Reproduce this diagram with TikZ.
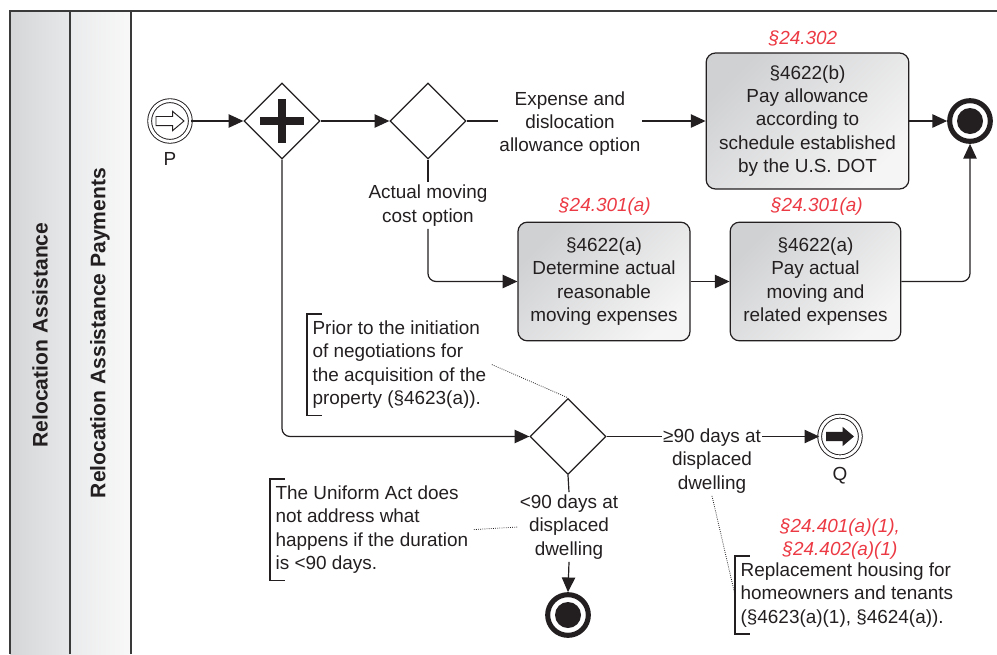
\documentclass[tikz,border=0pt]{standalone}
\usepackage{fontspec}
\setmainfont{Liberation Sans}
\usepackage{xcolor}
\usepackage{tikz}
\usetikzlibrary{shapes.geometric,arrows.meta}

\definecolor{ink}{HTML}{231F20}
\definecolor{laneline}{HTML}{3A3A3A}
\definecolor{refred}{HTML}{EC3A44}
\definecolor{taskdark}{HTML}{D0D1D3}
\definecolor{tasklight}{HTML}{F5F5F5}
\definecolor{poolleft}{HTML}{D5D6D8}
\definecolor{poolright}{HTML}{E7E8E9}
\definecolor{laneleft}{HTML}{EAEBEC}
\definecolor{laneright}{HTML}{F8F8F8}

\newcommand{\txt}{\fontsize{14.2}{17.4}\selectfont}
\newcommand{\linkarrow}{(-10.5pt,-3.4pt) -- (2pt,-3.4pt) -- (2pt,-7.2pt) -- (10.5pt,0pt) -- (2pt,7.2pt) -- (2pt,3.4pt) -- (-10.5pt,3.4pt) -- cycle}

\tikzset{
  seqflow/.style={draw=ink, line width=0.9pt, -{Triangle[length=11pt,width=10pt]}},
  plainflow/.style={draw=ink, line width=0.9pt},
  assoc/.style={draw=ink, line width=0.6pt, densely dotted},
  bracket/.style={draw=ink, line width=0.9pt},
  task/.style={draw=ink, line width=0.9pt, rounded corners=7pt, top color=taskdark, bottom color=tasklight, shading angle=45, align=center, text=ink, font=\txt, inner sep=2pt},
  gateway/.style={diamond, draw=ink, line width=1pt, fill=white, minimum width=57pt, minimum height=57pt, inner sep=0pt},
  linkevent/.style={circle, draw=ink, line width=0.7pt, double=white, double distance=2.2pt, minimum size=30.5pt, inner sep=0pt},
  endevent/.style={circle, draw=ink, line width=3.8pt, fill=white, minimum size=30.5pt, inner sep=0pt, path picture={\fill[ink] (path picture bounding box.center) circle (9.75pt);}},
  flowlabel/.style={align=center, text=ink, font=\txt, inner xsep=1pt, inner ysep=2pt},
  reflabel/.style={align=center, text=refred, font=\txt\itshape, inner sep=0pt},
  annot/.style={anchor=north west, align=left, text=ink, font=\txt, inner xsep=4pt, inner ysep=5pt},
  lanelabel/.style={rotate=90, text=ink, font=\fontsize{15.8}{19}\selectfont\bfseries}
}

\begin{document}
\begin{tikzpicture}[x=0.75pt,y=0.75pt,yscale=-1,xscale=1]
\useasboundingbox (0,0) rectangle (997,654);

\shade[left color=poolleft, right color=poolright] (10,11) rectangle (70,654);
\shade[left color=laneleft, right color=laneright] (70,11) rectangle (131,654);
\draw[laneline, line width=1.5pt] (997,11) -- (10,11) -- (10,654);
\draw[laneline, line width=1.5pt] (70,11) -- (70,654);
\draw[laneline, line width=1.2pt] (131,11) -- (131,654);

\node[lanelabel] (pool) at (40,335) {Relocation Assistance};
\node[lanelabel] (lane) at (100,333) {Relocation Assistance Payments};

\node[linkevent] (p) at (170,121) {};
\draw[ink, line width=0.7pt, fill=white, shift={(p.center)}] \linkarrow;
\node[flowlabel] (plbl) at (170,159) {P};

\node[gateway] (par) at (282,121) {};
\draw[ink, line width=6pt] ([xshift=-16.5pt]par.center) -- ([xshift=16.5pt]par.center);
\draw[ink, line width=6pt] ([yshift=-16.5pt]par.center) -- ([yshift=16.5pt]par.center);

\node[gateway] (gw1) at (428,121) {};
\node[flowlabel] (expense) at (570,123.5) {Expense and\\dislocation\\allowance option};
\node[task, minimum width=152pt, minimum height=102pt] (task1) at (807.5,121) {§4622(b)\\Pay allowance\\according to\\schedule established\\by the U.S. DOT};
\node[reflabel] (ref1) at (803,38) {§24.302};
\node[endevent] (endA) at (970,121) {};

\node[flowlabel] (moving) at (428,205.5) {Actual moving\\cost option};
\node[task, minimum width=129pt, minimum height=89pt] (task2) at (604,281.5) {§4622(a)\\Determine actual\\reasonable\\moving expenses};
\node[reflabel] (ref2) at (605,207) {§24.301(a)};
\node[task, minimum width=128pt, minimum height=89pt] (task3) at (815.5,281.5) {§4622(a)\\Pay actual\\moving and\\related expenses};
\node[reflabel] (ref3) at (817,207) {§24.301(a)};

\node[gateway] (gw3) at (568,436.5) {};
\node[flowlabel, anchor=north] (ge90) at (712,426) {≥90 days at\\displaced\\dwelling};
\node[linkevent] (q) at (840,436.5) {};
\fill[ink, shift={(q.center)}] \linkarrow;
\node[flowlabel] (qlbl) at (840,476) {Q};
\node[flowlabel] (lt90) at (569,527) {<90 days at\\displaced\\dwelling};
\node[endevent] (endB) at (568,615) {};

\node[annot] (prior) at (307,314) {Prior to the initiation\\of negotiations for\\the acquisition of the\\property (§4623(a)).};
\node[annot] (uniform) at (270,479) {The Uniform Act does\\not address what\\happens if the duration\\is <90 days.};
\node[annot] (housing) at (735,556) {Replacement housing for\\homeowners and tenants\\(§4623(a)(1), §4624(a)).};
\node[reflabel] (ref4) at (840,539) {§24.401(a)(1),\\§24.402(a)(1)};

\draw[bracket] ([xshift=11pt]prior.north west) -- (prior.north west) -- (prior.south west) -- ([xshift=11pt]prior.south west);
\draw[bracket] ([xshift=11pt]uniform.north west) -- (uniform.north west) -- (uniform.south west) -- ([xshift=11pt]uniform.south west);
\draw[bracket] ([xshift=11pt]housing.north west) -- (housing.north west) -- (housing.south west) -- ([xshift=11pt]housing.south west);

\draw[seqflow] (p.east) -- (par.west);
\draw[seqflow] (par.east) -- (gw1.west);
\draw[plainflow] (gw1.east) -- (gw1.east -| expense.west);
\draw[seqflow] (gw1.east -| expense.east) -- (task1.west);
\draw[seqflow] (task1.east) -- (endA.west);
\draw[plainflow] (gw1.south) -- (moving.north);
\draw[seqflow, rounded corners=6] (moving.south) |- (task2.west);
\draw[seqflow] (task2.east) -- (task3.west);
\draw[seqflow, rounded corners=6] (task3.east) -| (endA.south);
\draw[seqflow, rounded corners=6] (par.south) |- (gw3.west);
\draw[plainflow] (gw3.east) -- (gw3.east -| ge90.west);
\draw[seqflow] (gw3.east -| ge90.east) -- (q.west);
\draw[plainflow] (gw3.south) -- (lt90.north);
\draw[seqflow] (lt90.south) -- (endB.north);

\draw[assoc] (prior.east) -- (gw3.north);
\draw[assoc] (uniform.east) -- (lt90.west);
\draw[assoc] (ge90.south) -- (housing.west);
\end{tikzpicture}
\end{document}
